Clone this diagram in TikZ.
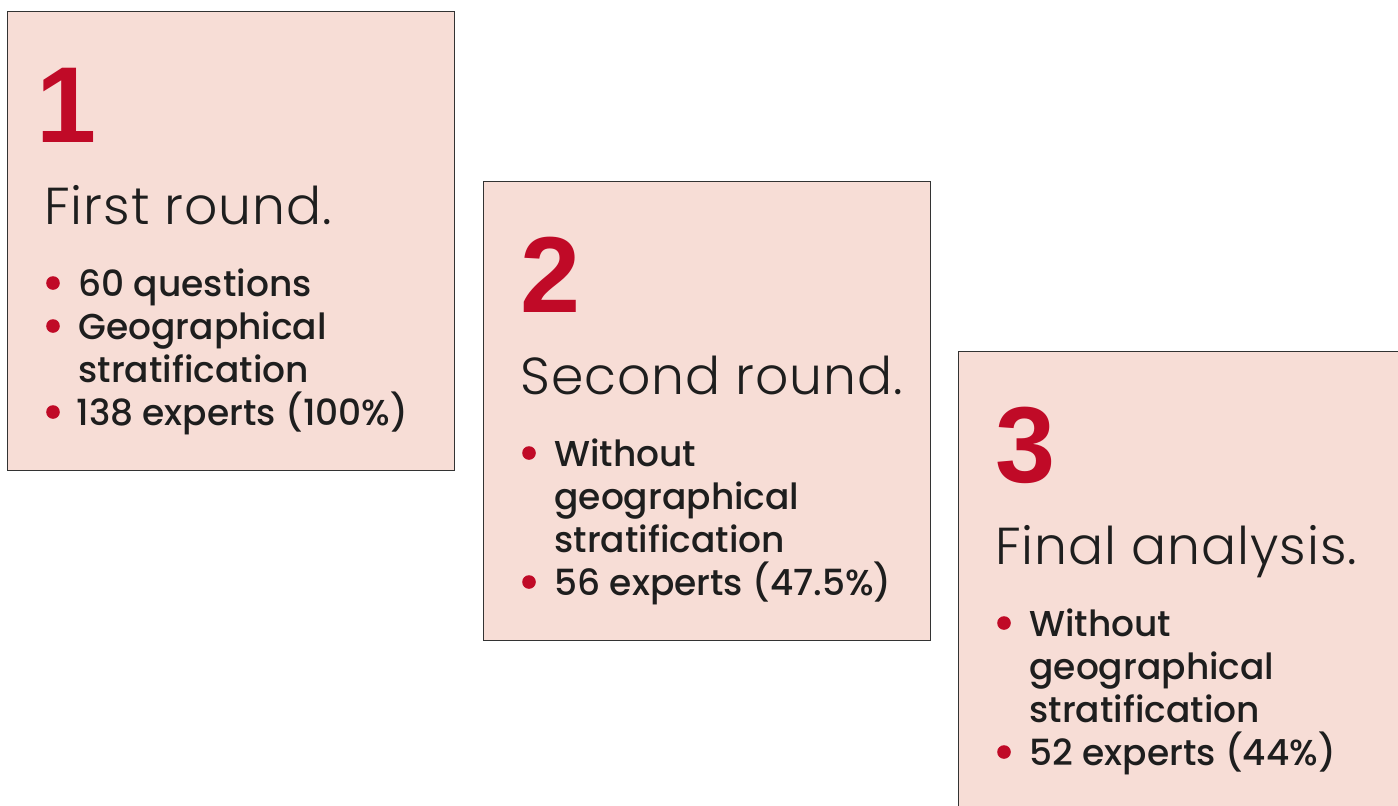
\documentclass[tikz,border=0pt]{standalone}
\usepackage{fontspec}
\setmainfont{Poppins Medium}
\newfontfamily\numfont{Liberation Sans}
\newfontfamily\headfont{Poppins Light}[LetterSpace=1.8]
\usetikzlibrary{positioning}
\definecolor{boxpink}{HTML}{F7DDD6}
\definecolor{numred}{HTML}{C00A27}
\definecolor{boxline}{HTML}{333333}
\definecolor{inkgray}{HTML}{1E1E1E}

\begin{document}
\begin{tikzpicture}[x=0.5pt,y=-0.5pt,
    card/.style={draw=boxline,fill=boxpink,line width=0.6pt,
      minimum width=223.5pt,minimum height=229.5pt,anchor=north west,inner sep=0pt},
    num/.style={anchor=base west,inner sep=0pt,text=numred,
      font=\numfont\bfseries\fontsize{54}{54}\selectfont},
    head/.style={anchor=base west,inner sep=0pt,text=inkgray,
      font=\headfont\fontsize{26}{26}\selectfont},
    item/.style={anchor=base west,inner sep=0pt,text=inkgray,
      font=\fontsize{18}{18}\selectfont},
    dot/.style={circle,fill=numred,inner sep=0pt,minimum size=6.8pt}
  ]
  \useasboundingbox (0,0) rectangle (1398,805);
  \clip (0,0) rectangle (1398,805);

  % first round
  \begin{scope}[shift={(7,11)}]
    \node[card] (card1) at (0,0) {};
    \node[num]  (num1)  at (29,131) {1};
    \node[head] (head1) at (37,213) {First round.};
    \node[dot]  (dot1a) at (46,272) {};
    \node[item] (item1a) at (71,285) {60 questions};
    \node[dot]  (dot1b) at (46,315) {};
    \node[item] (item1b) at (71,328) {Geographical};
    \node[item] (item1c) at (71,371) {stratification};
    \node[dot]  (dot1d) at (46,401) {};
    \node[item] (item1d) at (69,414) {138 experts (100\%)};
  \end{scope}

  % second round
  \begin{scope}[shift={(483,181)}]
    \node[card] (card2) at (0,0) {};
    \node[num]  (num2)  at (37,131) {2};
    \node[head] (head2) at (37,213) {Second round.};
    \node[dot]  (dot2a) at (46,272) {};
    \node[item] (item2a) at (71,285) {Without};
    \node[item] (item2b) at (71,328) {geographical};
    \node[item] (item2c) at (71,371) {stratification};
    \node[dot]  (dot2d) at (46,401) {};
    \node[item] (item2d) at (71,414) {56 experts (47.5\%)};
  \end{scope}

  % final analysis
  \begin{scope}[shift={(958,351)}]
    \node[card] (card3) at (0,0) {};
    \node[num]  (num3)  at (37,131) {3};
    \node[head] (head3) at (37,213) {Final analysis.};
    \node[dot]  (dot3a) at (46,272) {};
    \node[item] (item3a) at (71,285) {Without};
    \node[item] (item3b) at (71,328) {geographical};
    \node[item] (item3c) at (71,371) {stratification};
    \node[dot]  (dot3d) at (46,401) {};
    \node[item] (item3d) at (71,414) {52 experts (44\%)};
  \end{scope}
\end{tikzpicture}
\end{document}
